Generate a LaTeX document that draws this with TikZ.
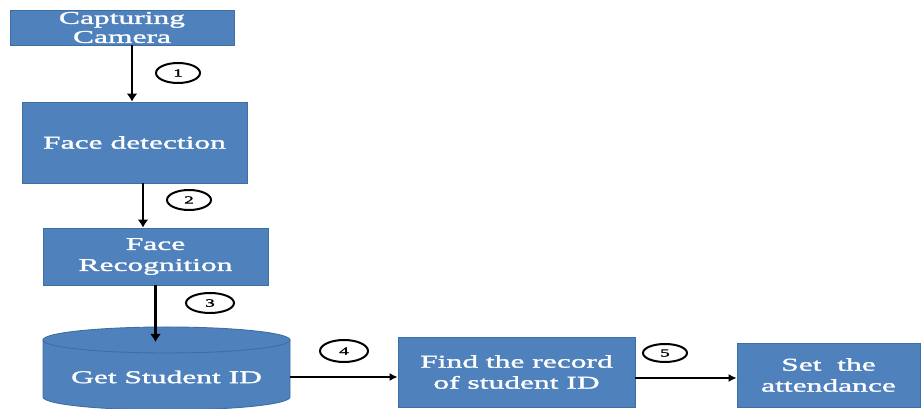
\documentclass[tikz,border=0pt]{standalone}
\usepackage{fontspec}
\setmainfont{Liberation Serif}[FakeStretch=1.75,FakeBold=1.6]
\usetikzlibrary{arrows.meta,shapes.geometric}
\definecolor{boxblue}{HTML}{4F81BD}
\definecolor{boxedge}{HTML}{3E6FA3}
\begin{document}
\begin{tikzpicture}[x=1pt,y=1pt,
  box/.style={draw=boxedge, line width=0.9pt, fill=boxblue, text=white,
    font=\fontsize{18}{20}\selectfont, align=center, inner sep=0pt},
  dbtext/.style={text=white, font=\fontsize{18}{20}\selectfont, inner sep=0pt},
  num/.style={draw=black, line width=2pt, fill=white, ellipse, inner sep=0pt,
    minimum width=44pt, minimum height=20pt, font=\fontsize{11}{12}\selectfont},
  arr/.style={-{Latex[length=8pt,width=11pt]}, line width=2.4pt},
  harr/.style={-{Latex[length=8pt,width=8pt]}, line width=1.4pt}]
\useasboundingbox (0,0) rectangle (922,409);

% boxes
\node[box, minimum width=224pt, minimum height=35pt, font=\fontsize{18}{19}\selectfont] (cam) at (122,381.5) {Capturing\\Camera};
\node[box, minimum width=225pt, minimum height=81pt] (det) at (134.5,266.5) {Face detection};
\node[box, minimum width=225pt, minimum height=57pt, font=\fontsize{18}{21}\selectfont] (rec) at (155.5,152.5) {Face\\Recognition};
\node[box, minimum width=237pt, minimum height=70pt, font=\fontsize{18}{21}\selectfont] (find) at (516.5,37) {Find the record\\of student ID};
\node[box, minimum width=183pt, minimum height=64pt, font=\fontsize{18}{21}\selectfont] (set) at (828.5,34) {Set~ the\\attendance};

% cylinder
\fill[boxblue] (43,69) -- (43,12) arc[start angle=180, end angle=360, x radius=123.5, y radius=13] -- (290,69) -- cycle;
\draw[boxedge, line width=0.9pt] (43,69) -- (43,12) arc[start angle=180, end angle=360, x radius=123.5, y radius=13] -- (290,69);
\filldraw[fill=boxblue, draw=boxedge, line width=0.9pt] (166.5,69) ellipse [x radius=123.5, y radius=13];
\node[dbtext, minimum width=247pt] (db) at (166.5,32) {Get Student ID};
\coordinate (dbtop) at (155.5,67);

% connectors
\draw[arr] ([xshift=10pt]cam.south) -- ([xshift=10pt]cam.south |- det.north);
\draw[arr] ([xshift=8.5pt]det.south) -- ([xshift=8.5pt]det.south |- rec.north);
\draw[arr] (rec.south) -- (dbtop);
\draw[harr] (db.east) -- (db.east -| find.west);
\draw[harr] ([yshift=-6pt]find.east) -- ([yshift=-6pt]find.east -| set.west);

% step labels
\node[num] (l1) at (178,336) {1};
\node[num] (l2) at (189,209) {2};
\node[num, minimum width=48pt] (l3) at (210,106) {3};
\node[num, minimum width=48pt, minimum height=22pt] (l4) at (344,58) {4};
\node[num, minimum height=18pt] (l5) at (665,56) {5};
\end{tikzpicture}
\end{document}
